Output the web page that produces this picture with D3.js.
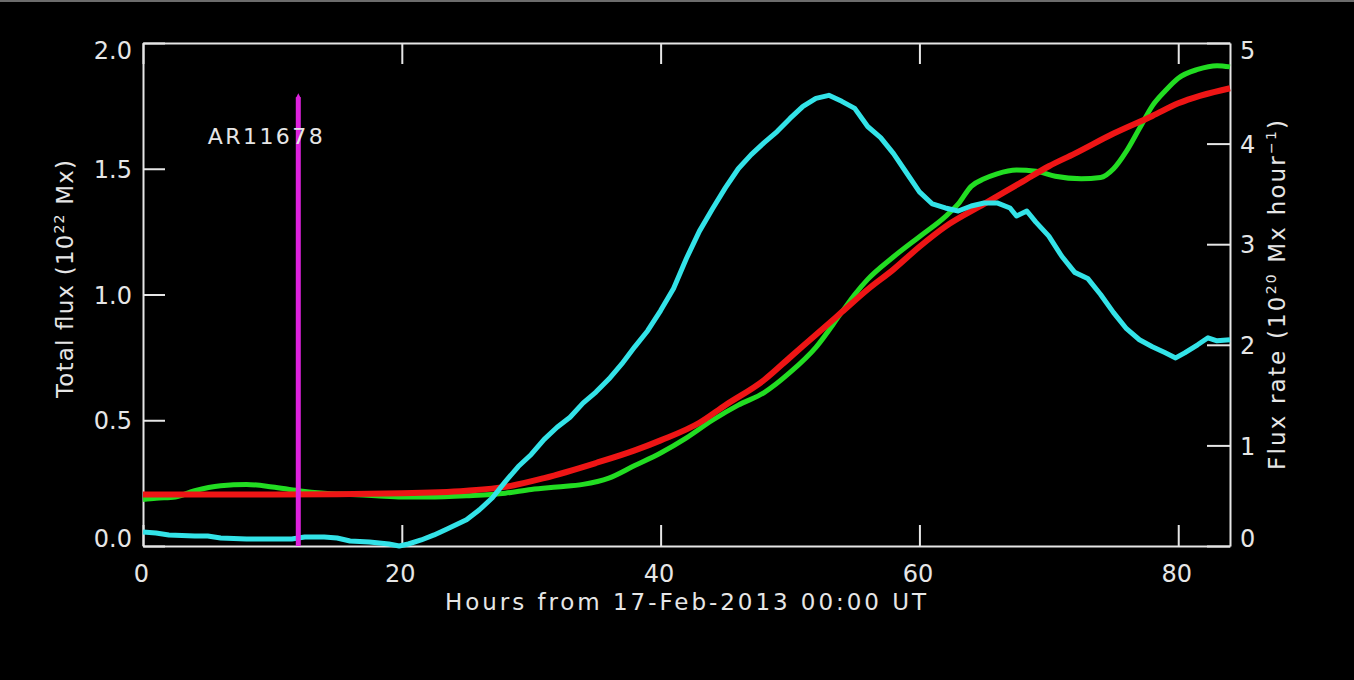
<!DOCTYPE html>
<html>
<head>
<meta charset="utf-8">
<script src="https://cdn.jsdelivr.net/npm/d3@7"></script>
<style>
  html, body { margin: 0; padding: 0; background: #000; }
  svg { display: block; }
  text { font-family: "DejaVu Sans", sans-serif; fill: #e6e6e6; }
</style>
</head>
<body>
<svg id="chart" width="1354" height="680"></svg>
<script>
// Hours from 17-Feb-2013 00:00 UT
const xTicksMajor = [0, 20, 40, 60, 80];
const leftTicksMajor = [0, 0.5, 1.0, 1.5, 2.0];
const rightTicksMajor = [0, 1, 2, 3, 4, 5];

// Total unsigned flux of AR11678 (10^22 Mx)
const fluxHours = [0, 1, 2.5, 4, 6, 8, 10, 12, 14, 16, 18, 20, 22, 25, 28, 30, 32, 34, 36, 38, 40, 42, 44, 46, 48, 50, 52, 54, 55, 56, 58, 60, 62, 63, 64, 65, 66, 67.5, 69, 70.5, 72.5, 74, 75, 76, 77, 78, 79, 80, 81.5, 83, 84];
const fluxValues = [0.185, 0.19, 0.195, 0.22, 0.24, 0.245, 0.235, 0.22, 0.21, 0.205, 0.2, 0.195, 0.195, 0.2, 0.21, 0.225, 0.235, 0.245, 0.27, 0.32, 0.37, 0.43, 0.5, 0.56, 0.61, 0.69, 0.79, 0.93, 1.0, 1.06, 1.15, 1.23, 1.31, 1.36, 1.43, 1.46, 1.48, 1.495, 1.49, 1.47, 1.46, 1.465, 1.5, 1.57, 1.66, 1.75, 1.81, 1.86, 1.895, 1.91, 1.905];

// Smooth fit to the total flux (10^22 Mx)
const fitHours = [0, 10, 20, 25, 28, 31, 35, 38, 40, 43, 45, 48, 50, 52, 54, 56, 58, 60, 62, 65, 68, 70, 72, 75, 78, 80, 84];
const fitValues = [0.205, 0.205, 0.21, 0.22, 0.235, 0.27, 0.33, 0.38, 0.42, 0.49, 0.56, 0.66, 0.75, 0.84, 0.93, 1.02, 1.10, 1.19, 1.27, 1.36, 1.45, 1.51, 1.56, 1.64, 1.71, 1.76, 1.82];

// Flux emergence rate (10^20 Mx hour^-1)
const rateHours = [0, 1, 2, 4, 5, 6, 8, 10, 11.5, 12.5, 14, 15, 16, 17.5, 19, 19.8, 20.5, 21.5, 22.5, 23.5, 25, 26, 27, 28, 29, 30, 31, 32, 33, 34, 35, 36, 37, 38, 39, 40, 41, 42, 43, 44, 45, 46, 47, 48, 49, 50, 51, 52, 53, 54, 55, 56, 57, 58, 59, 60, 61, 62, 63, 64, 65, 66, 67, 67.5, 68.3, 69, 70, 71, 72, 73, 74, 75, 76, 77, 78, 79, 79.8, 80.5, 81.5, 82.3, 83, 84];
const rateValues = [0.14, 0.13, 0.11, 0.10, 0.10, 0.08, 0.07, 0.07, 0.07, 0.09, 0.09, 0.08, 0.05, 0.04, 0.02, 0.0, 0.02, 0.06, 0.11, 0.17, 0.26, 0.36, 0.48, 0.64, 0.79, 0.91, 1.06, 1.18, 1.28, 1.42, 1.53, 1.66, 1.81, 1.98, 2.14, 2.34, 2.56, 2.86, 3.13, 3.35, 3.56, 3.75, 3.89, 4.01, 4.12, 4.25, 4.37, 4.45, 4.48, 4.42, 4.35, 4.17, 4.06, 3.9, 3.71, 3.52, 3.4, 3.36, 3.33, 3.38, 3.41, 3.41, 3.36, 3.28, 3.33, 3.22, 3.08, 2.88, 2.72, 2.66, 2.5, 2.32, 2.16, 2.05, 1.98, 1.92, 1.87, 1.92, 2.0, 2.07, 2.04, 2.05];

// Emergence marker
const markerHour = 12;
const markerTop = 1.8;
const markerLabel = "AR11678";
const markerLabelAt = [5, 1.6];

const svg = d3.select("#chart");
svg.append("rect").attr("width", 1354).attr("height", 680).attr("fill", "#000");
svg.append("rect").attr("width", 1354).attr("height", 2).attr("fill", "#6c6c6c");

const L = 143, R = 1230, T = 43, B = 546;
const x = d3.scaleLinear().domain([0, 84]).range([L, R]);
const yL = d3.scaleLinear().domain([0, 2]).range([B, T]);
const yR = d3.scaleLinear().domain([0, 5]).range([B, T]);

const axisColor = "#e6e6e6";
function styleAxis(g) {
  g.select(".domain").attr("stroke", axisColor).attr("stroke-width", 2);
  g.selectAll(".tick line").attr("stroke", axisColor).attr("stroke-width", 2);
}

const minorX = d3.range(0, 85, 5).filter(v => v % 20 !== 0);
const minorL = d3.range(0, 21).map(v => v / 10).filter(v => Math.round(v * 10) % 5 !== 0);
const minorR = d3.range(0, 51).map(v => v / 10).filter(v => Math.round(v * 10) % 10 !== 0);

// bottom axis
const gB = svg.append("g").attr("transform", `translate(0,${B})`);
gB.call(d3.axisBottom(x).tickValues(minorX).tickSize(-10).tickSizeOuter(0).tickFormat(""));
gB.call(d3.axisBottom(x).tickValues(xTicksMajor).tickSize(-21).tickSizeOuter(0).tickFormat(d3.format("d")));
styleAxis(gB);
gB.selectAll("text").attr("y", 36).attr("dy", 0).attr("dx", -2)
  .style("font-size", "24px").attr("fill", axisColor);

// top axis
const gT = svg.append("g").attr("transform", `translate(0,${T})`);
gT.call(d3.axisTop(x).tickValues(minorX).tickSize(-10).tickSizeOuter(0).tickFormat(""));
gT.call(d3.axisTop(x).tickValues(xTicksMajor).tickSize(-21).tickSizeOuter(0).tickFormat(""));
styleAxis(gT);

// left axis
const gL = svg.append("g").attr("transform", `translate(${L},0)`);
gL.call(d3.axisLeft(yL).tickValues(minorL).tickSize(-12).tickSizeOuter(0).tickFormat(""));
gL.call(d3.axisLeft(yL).tickValues(leftTicksMajor).tickSize(-22).tickSizeOuter(0).tickFormat(d3.format(".1f")));
styleAxis(gL);
gL.selectAll("text").attr("x", -11).attr("dy", "0.36em")
  .attr("transform", d => d === 2 ? "translate(0,7)" : d === 0 ? "translate(0,-8)" : null)
  .style("font-size", "24px").attr("fill", axisColor);

// right axis
const gR = svg.append("g").attr("transform", `translate(${R},0)`);
gR.call(d3.axisRight(yR).tickValues(minorR).tickSize(-10).tickSizeOuter(0).tickFormat(""));
gR.call(d3.axisRight(yR).tickValues(rightTicksMajor).tickSize(-23).tickSizeOuter(0).tickFormat(d3.format("d")));
styleAxis(gR);
gR.selectAll("text").attr("x", 10).attr("dy", "0.36em")
  .attr("transform", d => d === 5 ? "translate(0,7)" : d === 0 ? "translate(0,-8)" : null)
  .style("font-size", "24px").attr("fill", axisColor);

// axis titles, spaced out to the wide stroke-font look
svg.append("text").attr("x", 445).attr("y", 610)
  .attr("textLength", 481).attr("lengthAdjust", "spacing")
  .style("font-size", "23px").text("Hours from 17-Feb-2013 00:00 UT");

const lt = svg.append("text").attr("transform", `translate(73,398) rotate(-90)`)
  .attr("textLength", 238).attr("lengthAdjust", "spacing").style("font-size", "23px");
lt.append("tspan").text("Total flux (10");
lt.append("tspan").attr("dy", -9).style("font-size", "14px").text("22");
lt.append("tspan").attr("dy", 9).text(" Mx)");

const rt = svg.append("text").attr("transform", `translate(1285,470) rotate(-90)`)
  .attr("textLength", 350).attr("lengthAdjust", "spacing").style("font-size", "23px");
rt.append("tspan").text("Flux rate (10");
rt.append("tspan").attr("dy", -9).style("font-size", "14px").text("20");
rt.append("tspan").attr("dy", 9).text(" Mx hour");
rt.append("tspan").attr("dy", -9).style("font-size", "14px").text("\u22121");
rt.append("tspan").attr("dy", 9).text(")");

// curves
const plot = svg.append("g");
const lineL = d3.line().x(d => x(d[0])).y(d => yL(d[1])).curve(d3.curveMonotoneX);
const lineR = d3.line().x(d => x(d[0])).y(d => yR(d[1]));

plot.append("path").datum(d3.zip(fluxHours, fluxValues))
  .attr("d", lineL).attr("fill", "none")
  .attr("stroke", "#22dd22").attr("stroke-width", 5).attr("stroke-linejoin", "round");

plot.append("path").datum(d3.zip(fitHours, fitValues))
  .attr("d", lineL).attr("fill", "none")
  .attr("stroke", "#ee1515").attr("stroke-width", 6).attr("stroke-linejoin", "round");

plot.append("path").datum(d3.zip(rateHours, rateValues))
  .attr("d", lineR).attr("fill", "none")
  .attr("stroke", "#33e3e8").attr("stroke-width", 5).attr("stroke-linejoin", "round");

// emergence marker
plot.append("line")
  .attr("x1", x(markerHour)).attr("x2", x(markerHour))
  .attr("y1", yL(0)).attr("y2", yL(markerTop) + 4)
  .attr("stroke", "#dd22dd").attr("stroke-width", 5);
plot.append("path")
  .attr("d", `M${x(markerHour) - 2.5},${yL(markerTop) + 5} L${x(markerHour)},${yL(markerTop)} L${x(markerHour) + 2.5},${yL(markerTop) + 5} Z`)
  .attr("fill", "#dd22dd");

svg.append("text").attr("x", x(markerLabelAt[0])).attr("y", yL(markerLabelAt[1]))
  .attr("textLength", 115).attr("lengthAdjust", "spacing")
  .style("font-size", "22px").text(markerLabel);
</script>
</body>
</html>
